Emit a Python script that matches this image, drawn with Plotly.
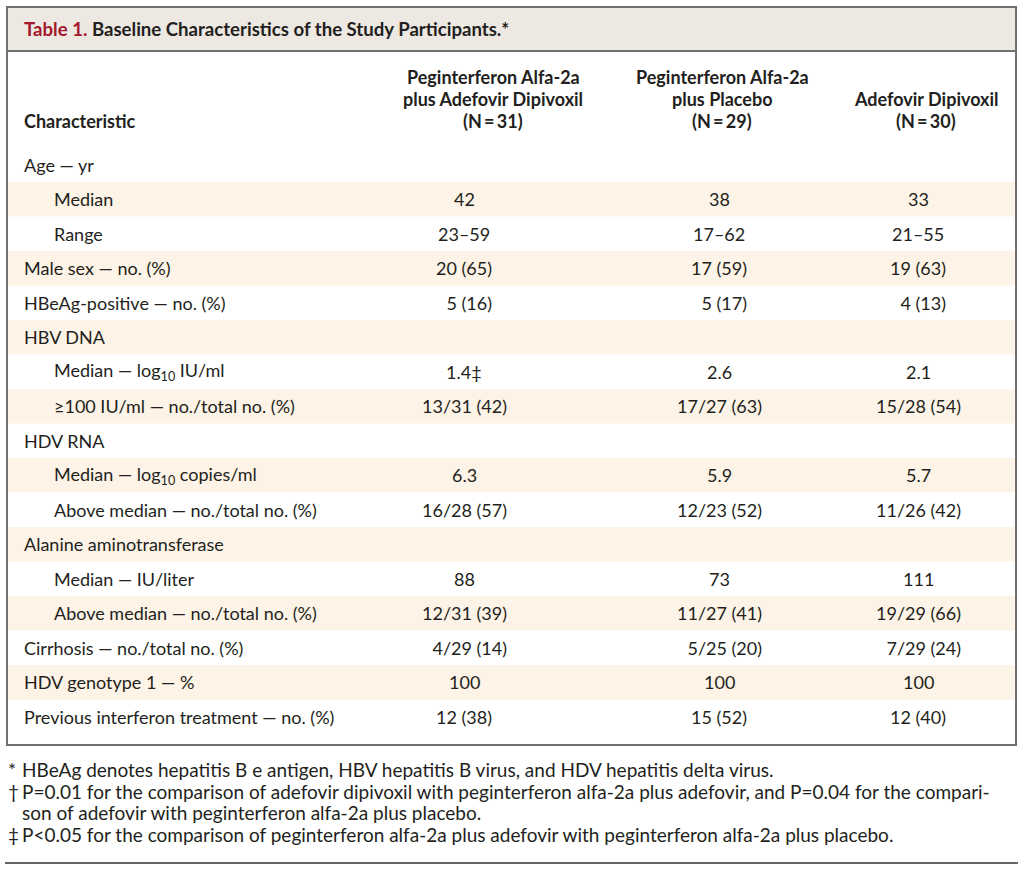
import plotly.graph_objects as go

# ---------------- data ----------------
title_red = "Table 1."
title_rest = "Baseline Characteristics of the Study Participants.*"

header_first = "Characteristic"
group_headers = [
    ["Peginterferon Alfa-2a", "plus Adefovir Dipivoxil", "(N\u2009=\u200931)"],
    ["Peginterferon Alfa-2a", "plus Placebo", "(N\u2009=\u200929)"],
    ["Adefovir Dipivoxil", "(N\u2009=\u200930)"],
]

row_labels = [
    "Age — yr",
    "Median",
    "Range",
    "Male sex — no. (%)",
    "HBeAg-positive — no. (%)",
    "HBV DNA",
    "Median — log<sub>10</sub> IU/ml",
    "≥100 IU/ml — no./total no. (%)",
    "HDV RNA",
    "Median — log<sub>10</sub> copies/ml",
    "Above median — no./total no. (%)",
    "Alanine aminotransferase",
    "Median — IU/liter",
    "Above median — no./total no. (%)",
    "Cirrhosis — no./total no. (%)",
    "HDV genotype 1 — %",
    "Previous interferon treatment — no. (%)",
]
row_indent = [0, 1, 1, 0, 0, 0, 1, 1, 0, 1, 1, 0, 1, 1, 0, 0, 0]

col_peg_adefovir = ["", "42", "23–59", "20 (65)", "\u20075 (16)", "", "1.4‡", "13/31 (42)", "",
                    "6.3", "16/28 (57)", "", "88", "12/31 (39)", "\u20074/29 (14)", "100", "12 (38)"]
col_peg_placebo = ["", "38", "17–62", "17 (59)", "\u20075 (17)", "", "2.6", "17/27 (63)", "",
                   "5.9", "12/23 (52)", "", "73", "11/27 (41)", "\u20075/25 (20)", "100", "15 (52)"]
col_adefovir = ["", "33", "21–55", "19 (63)", "\u20074 (13)", "", "2.1", "15/28 (54)", "",
                "5.7", "11/26 (42)", "", "111", "19/29 (66)", "\u20077/29 (24)", "100", "12 (40)"]

footnotes = [
    ("*", "HBeAg denotes hepatitis B e antigen, HBV hepatitis B virus, and HDV hepatitis delta virus."),
    ("†", "P=0.01 for the comparison of adefovir dipivoxil with peginterferon alfa-2a plus adefovir, and P=0.04 for the compari-"),
    ("", "son of adefovir with peginterferon alfa-2a plus placebo."),
    ("‡", "P<0.05 for the comparison of peginterferon alfa-2a plus adefovir with peginterferon alfa-2a plus placebo."),
]

# ---------------- style / layout ----------------
W, H = 1024, 869
FONT = "Lato"
TXT = "#231f20"
RED = "#a3182c"
BORDER = "#707070"
TITLE_BG = "#eee8e3"
SHADE = "#fdf3e6"
BODY_SIZE = 18

box_l, box_r, box_t, box_b = 7, 1016, 7, 745
title_b = 51
row_top0 = 147.5
row_h = 34.5
hdr_x = [493, 722, 926]
val_x = [464, 719, 918]
label_x = [22, 52]

fig = go.Figure()
shapes = []
ann = []

# title band
shapes.append(dict(type="rect", x0=box_l, x1=box_r, y0=box_t, y1=title_b,
                   fillcolor=TITLE_BG, line=dict(width=0), layer="below"))
# shaded rows
for i in range(len(row_labels)):
    if i % 2 == 1:
        y0 = row_top0 + i * row_h
        shapes.append(dict(type="rect", x0=box_l, x1=box_r, y0=y0, y1=y0 + row_h,
                           fillcolor=SHADE, line=dict(width=0), layer="below"))
# border
shapes.append(dict(type="rect", x0=box_l, x1=box_r, y0=box_t, y1=box_b,
                   fillcolor="rgba(0,0,0,0)", line=dict(color=BORDER, width=2)))
shapes.append(dict(type="line", x0=box_l, x1=box_r, y0=title_b, y1=title_b,
                   line=dict(color=BORDER, width=2)))
# bottom rule
shapes.append(dict(type="line", x0=5, x1=1018, y0=863, y1=863,
                   line=dict(color="#333333", width=1.5)))

def add_text(x, y, text, size=BODY_SIZE, bold=False, anchor="left", color=TXT):
    t = f"<b>{text}</b>" if bold else text
    ann.append(dict(x=x, y=y, xref="x", yref="y", text=t, showarrow=False,
                    xanchor=anchor, yanchor="middle",
                    font=dict(family=FONT, size=size, color=color)))

# title
add_text(22, 29, f"<span style='color:{RED}'>{title_red}</span> {title_rest}", size=18.6, bold=True)

# header
add_text(22, 121, header_first, bold=True)
line_sp = 22
for c, lines in enumerate(group_headers):
    n = len(lines)
    for k, ln in enumerate(lines):
        y = 121 - (n - 1 - k) * line_sp
        add_text(hdr_x[c], y, ln, bold=True, anchor="center")

# body
cols = [col_peg_adefovir, col_peg_placebo, col_adefovir]
for i, lab in enumerate(row_labels):
    yc = row_top0 + i * row_h + row_h / 2
    add_text(label_x[row_indent[i]], yc, lab)
    for c, col in enumerate(cols):
        if col[i]:
            add_text(val_x[c], yc, col[i], anchor="center")

# footnotes
fy = [769, 791, 812, 834]
for (sym, txt), y in zip(footnotes, fy):
    if sym:
        add_text(6, y, sym, size=19)
    add_text(20, y, txt, size=19)

fig.update_layout(
    width=W, height=H,
    margin=dict(l=0, r=0, t=0, b=0),
    paper_bgcolor="white", plot_bgcolor="white",
    xaxis=dict(range=[0, W], visible=False, fixedrange=True),
    yaxis=dict(range=[H, 0], visible=False, fixedrange=True),
    shapes=shapes, annotations=ann, showlegend=False,
)
fig.write_html(
    "out.html",
    config={"displayModeBar": False},
    post_script="document.body.style.margin='0';document.body.style.overflow='hidden';",
)
